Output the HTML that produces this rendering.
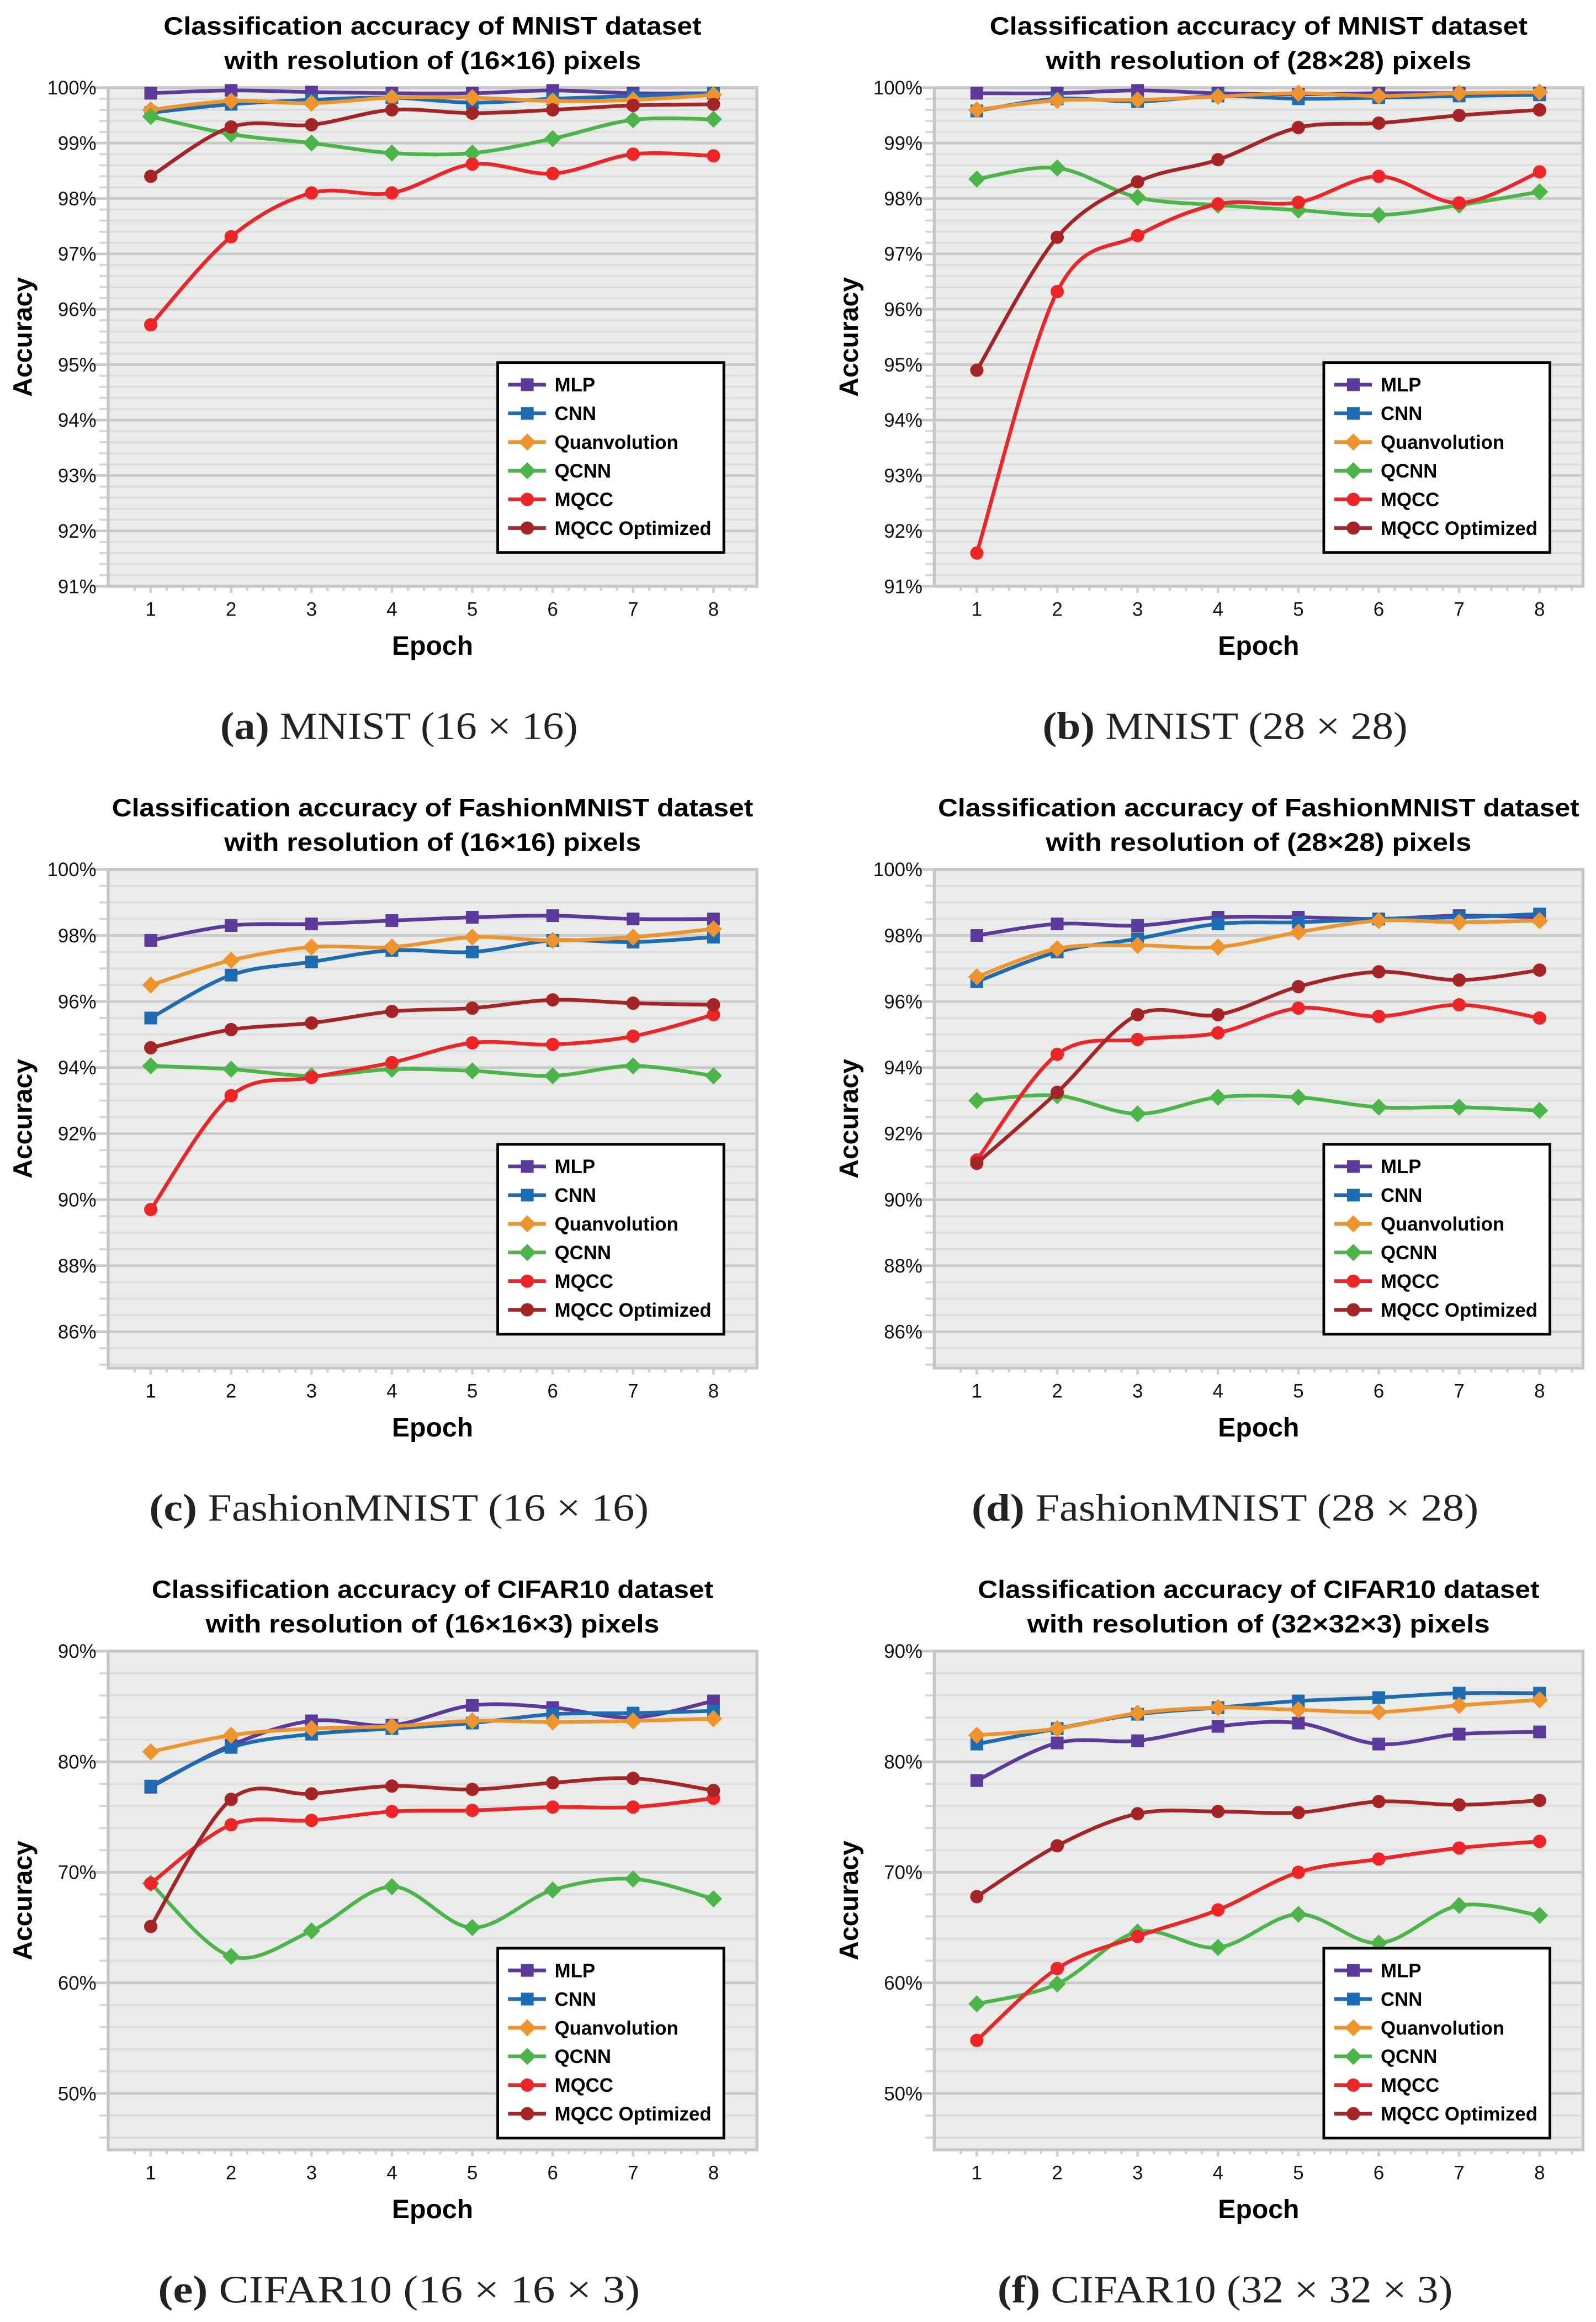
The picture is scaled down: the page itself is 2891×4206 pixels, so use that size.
<!DOCTYPE html>
<html><head><meta charset="utf-8"><style>
html,body{margin:0;padding:0;background:#fff;}
svg{display:block;}
text{font-family:"Liberation Sans",sans-serif;}
.cap{font-family:"Liberation Serif",serif;}
</style></head><body>
<svg id="fig" xmlns="http://www.w3.org/2000/svg" width="2891" height="4206" viewBox="0 0 1080 1571.2"></svg>
<script>
const epochs = [1,2,3,4,5,6,7,8];
const seriesNames = ["MLP","CNN","Quanvolution","QCNN","MQCC","MQCC Optimized"];
// (a) MNIST 16x16
const a_mlp = [99.9,99.95,99.92,99.9,99.9,99.95,99.9,99.9];
const a_cnn = [99.55,99.7,99.78,99.82,99.73,99.8,99.85,99.9];
const a_quan = [99.6,99.76,99.72,99.82,99.82,99.76,99.78,99.87];
const a_qcnn = [99.48,99.16,99.0,98.82,98.82,99.08,99.42,99.43];
const a_mqcc = [95.72,97.31,98.1,98.1,98.62,98.45,98.8,98.77];
const a_opt = [98.4,99.29,99.33,99.6,99.54,99.6,99.68,99.7];
// (b) MNIST 28x28
const b_mlp = [99.9,99.9,99.95,99.9,99.88,99.9,99.9,99.9];
const b_cnn = [99.58,99.8,99.75,99.85,99.8,99.82,99.85,99.87];
const b_quan = [99.6,99.77,99.78,99.84,99.9,99.85,99.9,99.92];
const b_qcnn = [98.35,98.55,98.02,97.88,97.79,97.7,97.88,98.12];
const b_mqcc = [91.6,96.32,97.33,97.9,97.93,98.4,97.92,98.48];
const b_opt = [94.9,97.3,98.3,98.7,99.28,99.36,99.5,99.6];
// (c) FashionMNIST 16x16
const c_mlp = [97.85,98.3,98.35,98.45,98.55,98.6,98.5,98.5];
const c_cnn = [95.5,96.8,97.2,97.55,97.5,97.85,97.8,97.95];
const c_quan = [96.5,97.25,97.65,97.65,97.95,97.85,97.95,98.2];
const c_qcnn = [94.05,93.95,93.75,93.95,93.9,93.75,94.05,93.75];
const c_mqcc = [89.7,93.15,93.7,94.15,94.75,94.7,94.95,95.6];
const c_opt = [94.6,95.15,95.35,95.7,95.8,96.05,95.95,95.9];
// (d) FashionMNIST 28x28
const d_mlp = [98.0,98.35,98.3,98.55,98.55,98.5,98.6,98.55];
const d_cnn = [96.6,97.5,97.9,98.35,98.4,98.5,98.55,98.65];
const d_quan = [96.75,97.6,97.7,97.65,98.1,98.45,98.4,98.45];
const d_qcnn = [93.0,93.15,92.6,93.1,93.1,92.8,92.8,92.7];
const d_mqcc = [91.2,94.4,94.85,95.05,95.8,95.55,95.9,95.5];
const d_opt = [91.1,93.25,95.6,95.6,96.45,96.9,96.65,96.95];
// (e) CIFAR10 16x16x3
const e_mlp = [77.7,81.5,83.7,83.3,85.1,84.9,84.0,85.5];
const e_cnn = [77.8,81.3,82.5,83.0,83.5,84.3,84.4,84.6];
const e_quan = [80.9,82.4,83.0,83.2,83.7,83.6,83.7,83.9];
const e_qcnn = [69.0,62.4,64.7,68.7,65.0,68.4,69.4,67.6];
const e_mqcc = [69.0,74.3,74.7,75.5,75.6,75.9,75.9,76.7];
const e_opt = [65.1,76.6,77.1,77.8,77.5,78.1,78.5,77.4];
// (f) CIFAR10 32x32x3
const f_mlp = [78.3,81.7,81.9,83.2,83.5,81.6,82.5,82.7];
const f_cnn = [81.6,83.0,84.3,84.9,85.5,85.8,86.2,86.2];
const f_quan = [82.4,83.0,84.4,84.9,84.7,84.5,85.1,85.6];
const f_qcnn = [58.1,59.9,64.6,63.2,66.2,63.6,67.0,66.1];
const f_mqcc = [54.8,61.3,64.2,66.6,70.0,71.2,72.2,72.8];
const f_opt = [67.8,72.4,75.3,75.5,75.4,76.4,76.1,76.5];
const ticksMNIST = [91,92,93,94,95,96,97,98,99,100];
const ticksFashion = [86,88,90,92,94,96,98,100];
const ticksCIFAR = [50,60,70,80,90];

const NS="http://www.w3.org/2000/svg";
const svg=document.getElementById('fig');
const colors=["#5b3a9b","#1c6bb3","#ef942c","#4bb54a","#ee2527","#a52527"];
const shapes=["square","square","diamond","diamond","circle","circle"];
function mk(tag,attrs,parent){const e=document.createElementNS(NS,tag);for(const k in attrs)e.setAttribute(k,attrs[k]);(parent||svg).appendChild(e);return e;}
function smooth(p){let d=`M${p[0][0]},${p[0][1]}`;for(let i=0;i<p.length-1;i++){const p0=p[i-1]||p[i],p1=p[i],p2=p[i+1],p3=p[i+2]||p2;const t=6;d+=` C${p1[0]+(p2[0]-p0[0])/t},${p1[1]+(p2[1]-p0[1])/t} ${p2[0]-(p3[0]-p1[0])/t},${p2[1]-(p3[1]-p1[1])/t} ${p2[0]},${p2[1]}`;}return d;}
function marker(g,shape,x,y,c){
  if(shape==="square") return mk('rect',{x:x-4.3,y:y-4.3,width:8.6,height:8.6,fill:c},g);
  if(shape==="diamond") return mk('path',{d:`M${x},${y-5.8} L${x+5.8},${y} L${x},${y+5.8} L${x-5.8},${y} Z`,fill:c},g);
  return mk('circle',{cx:x,cy:y,r:4.5,fill:c},g);
}
const charts=[
 {id:'a',col:0,row:0,t1:"Classification accuracy of MNIST dataset",t2:"with resolution of (16×16) pixels",w1:364,w2:282,ymin:91,ymax:100,ticks:ticksMNIST,minor:0.2,data:[a_mlp,a_cnn,a_quan,a_qcnn,a_mqcc,a_opt],capB:"(a)",cap:" MNIST (16 × 16)",cw:242,leg:186},
 {id:'b',col:1,row:0,t1:"Classification accuracy of MNIST dataset",t2:"with resolution of (28×28) pixels",w1:364,w2:288,ymin:91,ymax:100,ticks:ticksMNIST,minor:0.2,data:[b_mlp,b_cnn,b_quan,b_qcnn,b_mqcc,b_opt],capB:"(b)",cap:" MNIST (28 × 28)",cw:247,leg:186},
 {id:'c',col:0,row:1,t1:"Classification accuracy of FashionMNIST dataset",t2:"with resolution of (16×16) pixels",w1:434,w2:282,ymin:84.9,ymax:100,ticks:ticksFashion,minor:0.5,data:[c_mlp,c_cnn,c_quan,c_qcnn,c_mqcc,c_opt],capB:"(c)",cap:" FashionMNIST (16 × 16)",cw:338,leg:186},
 {id:'d',col:1,row:1,t1:"Classification accuracy of FashionMNIST dataset",t2:"with resolution of (28×28) pixels",w1:434,w2:288,ymin:84.9,ymax:100,ticks:ticksFashion,minor:0.5,data:[d_mlp,d_cnn,d_quan,d_qcnn,d_mqcc,d_opt],capB:"(d)",cap:" FashionMNIST (28 × 28)",cw:343,leg:186},
 {id:'e',col:0,row:2,t1:"Classification accuracy of CIFAR10 dataset",t2:"with resolution of (16×16×3) pixels",w1:380,w2:307,ymin:44.9,ymax:90,ticks:ticksCIFAR,minor:2,data:[e_mlp,e_cnn,e_quan,e_qcnn,e_mqcc,e_opt],capB:"(e)",cap:" CIFAR10 (16 × 16 × 3)",cw:326,leg:201},
 {id:'f',col:1,row:2,t1:"Classification accuracy of CIFAR10 dataset",t2:"with resolution of (32×32×3) pixels",w1:380,w2:313,ymin:44.9,ymax:90,ticks:ticksCIFAR,minor:2,data:[f_mlp,f_cnn,f_quan,f_qcnn,f_mqcc,f_opt],capB:"(f)",cap:" CIFAR10 (32 × 32 × 3)",cw:308,leg:201}
];
charts.forEach(ch=>{
  const ox=ch.col*559, oy=ch.row*529;
  const L=73.2+ox, T=59.3+oy, W=439, H=337.4, B=T+H, R=L+W, cx=L+W/2;
  const g=mk('g',{});
  
  
  const X=e=>L+28.8+(e-1)*54.4;
  const Y=v=>B-(v-ch.ymin)/(ch.ymax-ch.ymin)*H;
  const bg=mk('rect',{x:L,y:T,width:W,height:H,fill:"#eaecea"},g);
  
  
  for(let v=ch.ymin;v<=ch.ymax+1e-6;v+=ch.minor){const vv=Math.round(v/ch.minor)*ch.minor;if(vv<ch.ymin||vv>ch.ymax)continue;mk('line',{x1:L,x2:R,y1:Y(vv),y2:Y(vv),stroke:"#dcdddc","stroke-width":1.4},g);mk('line',{x1:L-6,x2:L,y1:Y(vv),y2:Y(vv),stroke:"#d6d6d6","stroke-width":1.4},g);}
  ch.ticks.forEach(t=>{
    mk('line',{x1:L,x2:R,y1:Y(t),y2:Y(t),stroke:"#c9c9c9","stroke-width":1.8},g);
    mk('line',{x1:L-12,x2:L,y1:Y(t),y2:Y(t),stroke:"#c9c9c9","stroke-width":1.8},g);
    const tx=mk('text',{x:L-8,y:Y(t)+4.6,"font-size":13,"text-anchor":"end",fill:"#111"},g);
    tx.textContent=t+"%";
    
    
  });
  for(let k=-1;k<=37;k++){const xx=X(1)+k*54.4/5;if(xx<L+3||xx>R-2)continue;const maj=k%5===0;mk('line',{x1:xx,x2:xx,y1:B+1,y2:B+(maj?4.5:3),stroke:"#d0d0d0","stroke-width":maj?1.8:1.6},g);}
  epochs.forEach(e=>{const tx=mk('text',{x:X(e),y:B+20,"font-size":13,"text-anchor":"middle",fill:"#111"},g);tx.textContent=e;
    
    });
  mk('rect',{x:L,y:T,width:W,height:H,fill:"none",stroke:"#c6c6c6","stroke-width":2},g);
  ch.data.forEach((vals,si)=>{
    const pts=vals.map((v,i)=>[X(epochs[i]),Y(v)]);
    const sg=mk('g',{},g);
    
    
    mk('path',{d:smooth(pts),fill:"none",stroke:colors[si],"stroke-width":2.5},sg);
    pts.forEach(p=>{const m=marker(sg,shapes[si],p[0],p[1],colors[si]);
      
      });
  });
  const t1=mk('text',{x:cx,y:23.3+oy,"font-size":17,"font-weight":"bold","text-anchor":"middle",textLength:ch.w1,lengthAdjust:"spacingAndGlyphs"},g);t1.textContent=ch.t1;
  
  
  const t2=mk('text',{x:cx,y:46.7+oy,"font-size":17,"font-weight":"bold","text-anchor":"middle",textLength:ch.w2,lengthAdjust:"spacingAndGlyphs"},g);t2.textContent=ch.t2;
  
  
  const yt=mk('text',{x:0,y:0,"font-size":18,"font-weight":"bold","text-anchor":"middle",transform:`translate(${21.5+ox},${228+oy}) rotate(-90)`},g);yt.textContent="Accuracy";
  
  
  const xt=mk('text',{x:cx,y:443+oy,"font-size":18,"font-weight":"bold","text-anchor":"middle"},g);xt.textContent="Epoch";
  
  
  const lx=L+263.6, ly=T+ch.leg;
  const lg=mk('g',{},g);
  
  
  mk('rect',{x:lx,y:ly,width:153,height:128.5,fill:"#fff",stroke:"#000","stroke-width":1.8},lg);
  seriesNames.forEach((n,i)=>{
    const yy=ly+15+i*19.4;
    const eg=mk('g',{},lg);
    
    
    mk('line',{x1:lx+7,x2:lx+32.6,y1:yy,y2:yy,stroke:colors[i],"stroke-width":2.5},eg);
    marker(eg,shapes[i],lx+20,yy,colors[i]);
    const tx=mk('text',{x:lx+38.5,y:yy+4.6,"font-size":13,"font-weight":"bold"},eg);tx.textContent=n;
  });
  const capX = ch.col===0 ? 270 : 829;
  const cp=mk('text',{x:capX,y:500+oy,"font-size":26,"text-anchor":"middle",class:"cap",fill:"#222",textLength:ch.cw,lengthAdjust:"spacingAndGlyphs"},g);
  
  
  const b=mk('tspan',{"font-weight":"bold"},cp);b.textContent=ch.capB;
  const r=mk('tspan',{},cp);r.textContent=ch.cap;
});
</script>
</body></html>
